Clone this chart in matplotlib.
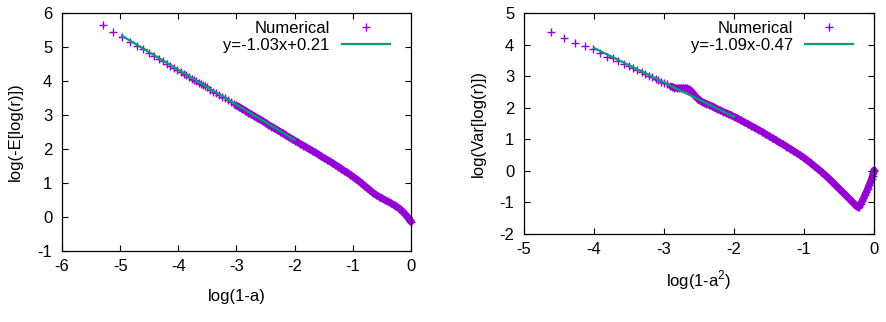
"""Log-log scaling of -E[log r] and Var[log r] near a -> 1, numerical points with linear fits.

Two gnuplot-style panels: the numerical curve drawn as dense '+' markers and the fitted
straight line over the range used for the fit. Where the original markers overlap into a
solid band, a thick stroke through the same points stands in for the overlap.
"""

import matplotlib

matplotlib.use("Agg")

import matplotlib.pyplot as plt

plt.rcParams["font.family"] = ["Liberation Sans", "DejaVu Sans"]
plt.rcParams["mathtext.fontset"] = "custom"
plt.rcParams["mathtext.rm"] = "Liberation Sans"

POINT_COLOUR = "#9400d3"
FIT_COLOUR = "#009e73"
FONT_SIZE = 12
BAND_WIDTH = 5.0

# ---- left panel: log(-E[log(r)]) against log(1-a) ----
mean_x = [
    -5.30, -5.12, -4.96, -4.83, -4.71, -4.61, -4.51, -4.42, -4.34, -4.27,
    -4.20, -4.14, -4.08, -4.02, -3.96, -3.91, -3.86, -3.82, -3.77, -3.73,
    -3.69, -3.65, -3.61, -3.58, -3.54, -3.51, -3.45, -3.40, -3.35, -3.30,
    -3.25, -3.20, -3.15, -3.10, -3.05, -3.00, -2.95, -2.90, -2.85, -2.80,
    -2.75, -2.70, -2.65, -2.60, -2.55, -2.50, -2.45, -2.40, -2.35, -2.30,
    -2.25, -2.20, -2.15, -2.10, -2.05, -2.00, -1.95, -1.90, -1.85, -1.80,
    -1.75, -1.70, -1.65, -1.60, -1.55, -1.50, -1.45, -1.40, -1.35, -1.30,
    -1.25, -1.20, -1.15, -1.10, -1.05, -1.00, -0.95, -0.90, -0.85, -0.80,
    -0.75, -0.70, -0.65, -0.60, -0.55, -0.50, -0.45, -0.40, -0.35, -0.30,
    -0.25, -0.20, -0.16, -0.12, -0.09, -0.06, -0.04, -0.02, -0.01, 0.00,
]
mean_y = [
    5.65, 5.45, 5.29, 5.16, 5.04, 4.93, 4.83, 4.74, 4.66, 4.59,
    4.51, 4.45, 4.39, 4.33, 4.27, 4.22, 4.17, 4.12, 4.07, 4.03,
    3.99, 3.95, 3.91, 3.88, 3.84, 3.81, 3.74, 3.69, 3.64, 3.59,
    3.54, 3.49, 3.43, 3.38, 3.33, 3.28, 3.23, 3.18, 3.13, 3.07,
    3.02, 2.97, 2.92, 2.87, 2.82, 2.77, 2.71, 2.66, 2.61, 2.56,
    2.51, 2.46, 2.40, 2.35, 2.30, 2.25, 2.20, 2.15, 2.10, 2.05,
    2.00, 1.95, 1.90, 1.85, 1.79, 1.74, 1.69, 1.64, 1.59, 1.53,
    1.48, 1.42, 1.36, 1.31, 1.25, 1.19, 1.13, 1.06, 0.99, 0.92,
    0.85, 0.78, 0.71, 0.65, 0.60, 0.55, 0.50, 0.46, 0.41, 0.36,
    0.31, 0.25, 0.19, 0.12, 0.06, 0.00, -0.05, -0.09, -0.12, -0.14,
]
mean_fit_x = [-4.97, -2.00]
mean_fit_y = [5.33, 2.27]
mean_fit_label = "y=-1.03x+0.21"

# ---- right panel: log(Var[log(r)]) against log(1-a^2) ----
var_x = [
    -4.61, -4.43, -4.27, -4.13, -4.01, -3.91, -3.81, -3.73, -3.65, -3.57,
    -3.50, -3.44, -3.38, -3.32, -3.27, -3.22, -3.17, -3.12, -3.08, -3.04,
    -3.00, -2.96, -2.92, -2.89, -2.85, -2.82, -2.79, -2.76, -2.73, -2.70,
    -2.67, -2.64, -2.61, -2.58, -2.55, -2.52, -2.49, -2.46, -2.43, -2.40,
    -2.36, -2.32, -2.28, -2.24, -2.20, -2.16, -2.12, -2.08, -2.04, -2.00,
    -1.95, -1.90, -1.85, -1.80, -1.75, -1.70, -1.65, -1.60, -1.55, -1.50,
    -1.45, -1.40, -1.35, -1.30, -1.25, -1.20, -1.15, -1.10, -1.05, -1.00,
    -0.95, -0.90, -0.85, -0.80, -0.75, -0.70, -0.65, -0.60, -0.55, -0.50,
    -0.45, -0.40, -0.36, -0.32, -0.28, -0.25, -0.23, -0.21, -0.19, -0.17,
    -0.15, -0.13, -0.11, -0.09, -0.07, -0.05, -0.035, -0.02, -0.01, -0.003,
    0.00,
]
var_y = [
    4.41, 4.22, 4.04, 3.96, 3.86, 3.74, 3.62, 3.56, 3.47, 3.40,
    3.32, 3.26, 3.19, 3.13, 3.07, 3.02, 2.97, 2.91, 2.87, 2.82,
    2.78, 2.74, 2.69, 2.67, 2.63, 2.62, 2.62, 2.62, 2.62, 2.62,
    2.61, 2.58, 2.52, 2.44, 2.36, 2.29, 2.23, 2.19, 2.16, 2.13,
    2.09, 2.05, 2.01, 1.96, 1.92, 1.88, 1.84, 1.80, 1.76, 1.72,
    1.66, 1.60, 1.54, 1.48, 1.42, 1.36, 1.30, 1.24, 1.17, 1.10,
    1.04, 0.97, 0.90, 0.84, 0.77, 0.70, 0.63, 0.56, 0.49, 0.41,
    0.33, 0.24, 0.15, 0.06, -0.03, -0.13, -0.23, -0.34, -0.45, -0.56,
    -0.67, -0.78, -0.87, -0.96, -1.05, -1.12, -1.15, -1.13, -1.05, -0.96,
    -0.87, -0.77, -0.67, -0.57, -0.46, -0.35, -0.25, -0.15, -0.07, -0.01,
    0.02,
]
var_fit_x = [-4.00, -2.00]
var_fit_y = [3.89, 1.71]
var_fit_label = "y=-1.09x-0.47"

FIG_W, FIG_H = 887, 322


def _style_axes(axes, xlim, ylim, xticks, yticks):
    axes.set_xlim(*xlim)
    axes.set_ylim(*ylim)
    axes.set_xticks(xticks)
    axes.set_yticks(yticks)
    axes.set_xticklabels([f"{t:g}" for t in xticks])
    axes.set_yticklabels([f"{t:g}" for t in yticks])
    for spine in axes.spines.values():
        spine.set_linewidth(0.9)
        spine.set_color("black")
    axes.tick_params(
        direction="in",
        top=True,
        right=True,
        length=4.5,
        width=0.8,
        labelsize=FONT_SIZE,
        colors="black",
    )
    axes.tick_params(axis="x", pad=6)
    axes.tick_params(axis="y", pad=7)


def _draw_panel(axes, xs, ys, band_start, fit_x, fit_y, fit_label, anchor):
    # overlapping markers merge into a solid band on the dense side of the curve
    band = [(x, y) for x, y in zip(xs, ys) if x >= band_start]
    axes.plot(
        [p[0] for p in band],
        [p[1] for p in band],
        color=POINT_COLOUR,
        linewidth=BAND_WIDTH,
        solid_capstyle="round",
        solid_joinstyle="round",
        clip_on=False,
        zorder=1,
    )
    axes.plot(
        xs,
        ys,
        linestyle="",
        marker="+",
        markersize=6,
        markeredgewidth=1.0,
        color=POINT_COLOUR,
        clip_on=False,
        zorder=2,
        label="Numerical",
    )
    axes.plot(fit_x, fit_y, color=FIT_COLOUR, linewidth=1.6, zorder=3, label=fit_label)
    axes.legend(
        loc="upper right",
        bbox_to_anchor=anchor,
        markerfirst=False,
        frameon=False,
        fontsize=FONT_SIZE,
        handlelength=2.9,
        handletextpad=0.72,
        labelspacing=0.1,
        borderpad=0,
        borderaxespad=0,
        numpoints=1,
    )


def _place_labels(axes, xlabel, ylabel, x_label_y, y_label_x):
    axes.set_xlabel(xlabel, fontsize=FONT_SIZE)
    axes.set_ylabel(ylabel, fontsize=FONT_SIZE)
    axes.xaxis.set_label_coords(0.5, x_label_y)
    axes.yaxis.set_label_coords(y_label_x, 0.5)
    axes.xaxis.label.set_verticalalignment("center")
    axes.yaxis.label.set_verticalalignment("center")


def main():
    figure = plt.figure(figsize=(FIG_W / 100, FIG_H / 100), dpi=100)

    left = figure.add_axes([62 / FIG_W, 1 - 251 / FIG_H, 349 / FIG_W, 238 / FIG_H])
    right = figure.add_axes([524 / FIG_W, 1 - 234 / FIG_H, 350 / FIG_W, 221 / FIG_H])

    _draw_panel(
        left, mean_x, mean_y, -3.0, mean_fit_x, mean_fit_y, mean_fit_label,
        (328 / 349, 1 - 8 / 238),
    )
    _style_axes(left, (-6, 0), (-1, 6), list(range(-6, 1)), list(range(-1, 7)))
    _place_labels(left, "log(1-a)", "log(-E[log(r)])", -45 / 238, -47 / 349)

    _draw_panel(
        right, var_x, var_y, -2.9, var_fit_x, var_fit_y, var_fit_label,
        (329 / 350, 1 - 8 / 221),
    )
    _style_axes(right, (-5, 0), (-2, 5), list(range(-5, 1)), list(range(-2, 6)))
    _place_labels(right, "log(1-a$^2$)", "log(Var[log(r)])", -46 / 221, -46 / 350)

    figure.savefig("out.png", dpi=100)
    plt.close(figure)


if __name__ == "__main__":
    main()
